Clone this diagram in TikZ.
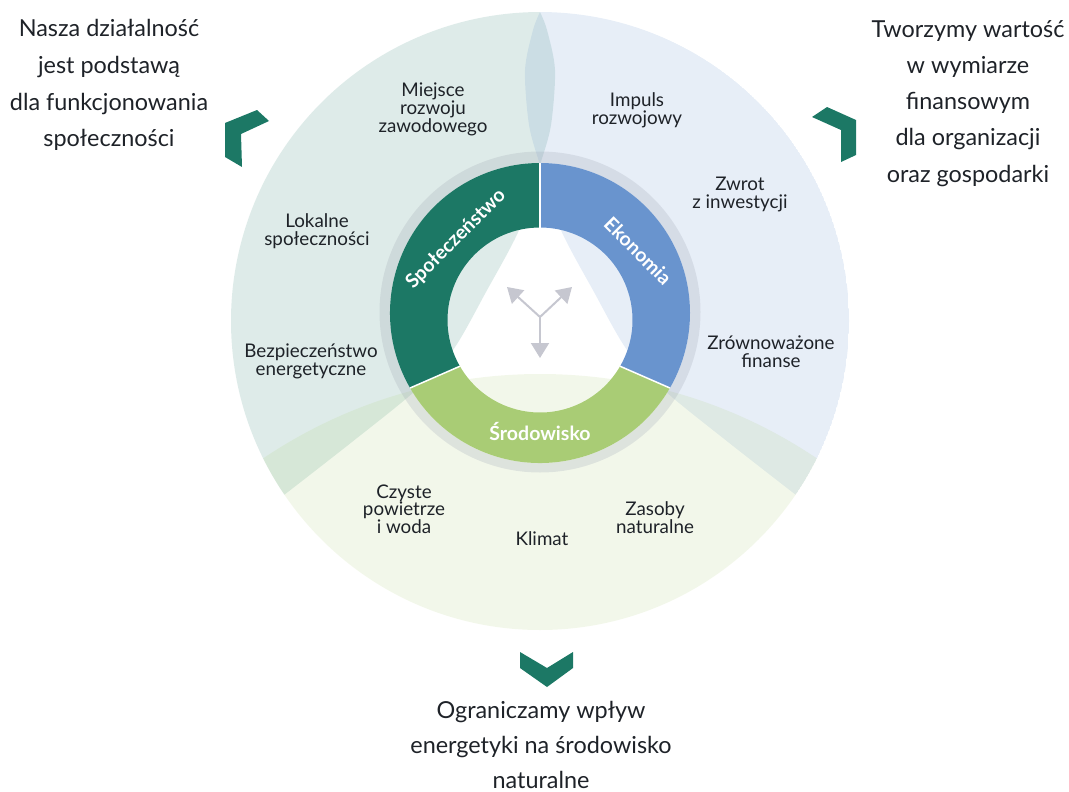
\documentclass[tikz,border=0pt]{standalone}
\usepackage{fontspec}
\setmainfont{Lato}
\usetikzlibrary{calc}
\usetikzlibrary{arrows.meta}

\definecolor{socgreen}{RGB}{28,120,101}
\definecolor{ecoblue}{RGB}{105,148,206}
\definecolor{envgreen}{RGB}{169,204,117}
\definecolor{ringgray}{RGB}{160,166,180}
\definecolor{arrowgray}{RGB}{198,199,208}
\definecolor{txt}{RGB}{30,34,40}

\begin{document}
\begin{tikzpicture}[x=1bp,y=-1bp,
  inner label/.style={font=\fontsize{18.8bp}{17.5bp}\selectfont,text=txt,align=center,anchor=base,inner sep=0pt},
  outer label/.style={font=\fontsize{23.4bp}{36.5bp}\selectfont,text=txt,align=center,anchor=base,inner sep=0pt},
  ring label/.style={font=\fontsize{19.5bp}{19.5bp}\selectfont\bfseries,text=white,inner sep=0pt},
  chevron/.style={fill=socgreen},
  hub arrow/.style={draw=arrowgray,line width=2bp,-{Triangle[width=18bp,length=15bp]}}]
\useasboundingbox (0,0) rectangle (1069,792);
\coordinate (C) at (540,321);
\coordinate (O1) at (540,313);
\coordinate (O2) at (540,320);

% tinted fields
\begin{scope}
\clip (C) circle[radius=309];
\fill[socgreen,fill opacity=0.145] plot[smooth] coordinates {(540,12) (547,30) (555,70) (551,125) (540,165) (520,228) (486,292) (453,350) (415,391) (352,442) (284.4,494.7)} arc[start angle=145.8,end angle=270,radius=309] -- cycle;
\fill[ecoblue,fill opacity=0.16] plot[smooth] coordinates {(540,12) (533,30) (525,70) (529,125) (540,165) (560,228) (594,292) (627,350) (665,391) (728,442) (795.6,494.7)} arc[start angle=34.2,end angle=-90,radius=309] -- cycle;
\fill[envgreen,fill opacity=0.15] (540,870) circle[radius=496];
\end{scope}

% ring
\fill[ringgray,fill opacity=0.25,even odd rule] (540,312) circle[radius=160.5] (540,313) circle[radius=150];
\fill[socgreen] ($(O1)+(150:150)$) arc[start angle=150,end angle=270,radius=150] -- ($(O2)+(270:92.5)$) arc[start angle=270,end angle=150,radius=92.5] -- cycle;
\fill[ecoblue] ($(O1)+(-90:150)$) arc[start angle=-90,end angle=30,radius=150] -- ($(O2)+(30:92.5)$) arc[start angle=30,end angle=-90,radius=92.5] -- cycle;
\fill[envgreen] ($(O1)+(30:150)$) arc[start angle=30,end angle=150,radius=150] -- ($(O2)+(150:92.5)$) arc[start angle=150,end angle=30,radius=92.5] -- cycle;
\foreach \a in {270,150,30}
  \draw[white,line width=1.5bp] ($(O2)+(\a:92.5)$) -- ($(O1)+(\a:150)$);

\node[ring label,rotate=45] (spol) at (456,239) {Społeczeństwo};
\node[ring label,rotate=-45] (eko) at (638,251) {Ekonomia};
\node[ring label,anchor=base] (srod) at (540,440) {Środowisko};

% arrows in the middle
\coordinate (hub) at (540,317);
\coordinate (tipL) at (507,287);
\coordinate (tipR) at (572,287);
\coordinate (tipD) at (540,358);
\draw[hub arrow] (hub) -- (tipL);
\draw[hub arrow] (hub) -- (tipR);
\draw[hub arrow] (hub) -- (tipD);

% labels in the fields (anchor = last baseline)
\node[inner label] (miejsce) at (433,132) {Miejsce\\rozwoju\\zawodowego};
\node[inner label] (lokalne) at (317,245) {Lokalne\\społeczności};
\node[inner label] (bezp) at (311,375) {Bezpieczeństwo\\energetyczne};
\node[inner label] (impuls) at (637,124) {Impuls\\rozwojowy};
\node[inner label] (zwrot) at (740,208) {Zwrot\\z inwestycji};
\node[inner label] (finanse) at (771,367) {Zrównoważone\\finanse};
\node[inner label] (czyste) at (404,533) {Czyste\\powietrze\\i woda};
\node[inner label] (klimat) at (542,545) {Klimat};
\node[inner label] (zasoby) at (655,533) {Zasoby\\naturalne};

% outer texts and chevrons
\node[outer label] (spoltxt) at (109,146.5) {Nasza działalność\\jest podstawą\\dla funkcjonowania\\społeczności};
\node[outer label,font=\fontsize{23.4bp}{36.2bp}\selectfont] (ekotxt) at (968,182) {Tworzymy wartość\\w wymiarze\\finansowym\\dla organizacji\\oraz gospodarki};
\node[outer label,font=\fontsize{23.4bp}{35bp}\selectfont] (srodtxt) at (541,788) {Ograniczamy wpływ\\energetyki na środowisko\\naturalne};
\fill[chevron] (225,123) -- (257,110) -- (269,121) -- (241,134) -- (242,167) -- (225,157) -- cycle;
\fill[chevron] (812,117) -- (827,107) -- (856,120) -- (856,155) -- (841,162) -- (841,130) -- cycle;
\fill[chevron] (520,652) -- (547,668) -- (573,652) -- (573,668) -- (547,687) -- (520,668) -- cycle;

\end{tikzpicture}
\end{document}
